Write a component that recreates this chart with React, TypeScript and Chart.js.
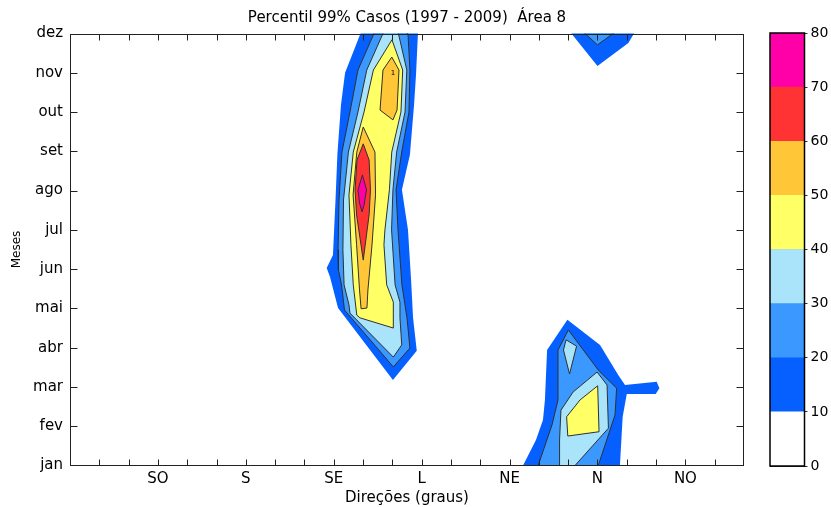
import React, { useEffect, useRef } from 'react';
import { Chart, registerables } from 'chart.js';

Chart.register(...registerables);

type P = [number, number];

// ---- axes / labels ----
const titleText = 'Percentil 99% Casos (1997 - 2009)  Área 8';
const monthLabels = ['jan', 'fev', 'mar', 'abr', 'mai', 'jun', 'jul', 'ago', 'set', 'out', 'nov', 'dez'];
const dirValues = [45, 90, 135, 180, 225, 270, 315];
const dirLabels = ['SO', 'S', 'SE', 'L', 'NE', 'N', 'NO'];
const barLevels = [10, 20, 30, 40, 50, 60, 70, 80];
const levelColors = ['#ffffff', '#0660ff', '#3a98ff', '#a9e4fb', '#ffff66', '#ffc637', '#ff3333', '#ff00a8'];

// ---- contour regions, [direction (deg), month] ----
// SE / L blob
const se10: P[] = [[152.7, 12.5], [148.7, 12.0], [140.8, 11.0], [138.7, 10.18], [136.9, 8.95], [135.9, 7.76], [134.6, 6.36], [131.4, 6.03], [133.1, 5.8], [137.2, 5.01], [165.3, 3.18], [177.5, 3.92], [175.6, 4.76], [174.6, 5.72], [173.0, 7.0], [169.9, 8.02], [174.0, 8.91], [176.1, 10.18], [177.1, 10.94], [178.1, 12.0], [178.6, 12.5]];
const se20: P[] = [[160.0, 12.5], [155.6, 12.0], [147.4, 11.07], [143.3, 10.0], [139.2, 8.98], [137.7, 7.76], [137.2, 6.49], [137.4, 5.98], [139.0, 5.6], [140.5, 4.96], [165.5, 3.51], [174.0, 3.99], [172.5, 4.76], [169.9, 5.6], [167.9, 7.0], [166.9, 8.02], [169.8, 8.98], [173.5, 10.0], [174.0, 11.07], [173.0, 12.0], [172.5, 12.5]];
const se30: P[] = [[164.5, 12.5], [160.2, 12.0], [151.9, 11.07], [147.4, 10.0], [142.5, 8.98], [140.0, 7.76], [139.7, 6.49], [140.3, 5.6], [142.8, 5.09], [143.3, 4.88], [165.5, 3.76], [169.8, 4.07], [168.9, 4.76], [168.9, 5.16], [166.4, 5.6], [164.6, 7.0], [165.3, 8.02], [167.2, 8.98], [171.5, 10.0], [172.4, 11.07], [168.1, 12.0], [166.0, 12.5]];
const se40: P[] = [[164.8, 11.84], [155.3, 11.07], [150.5, 10.0], [145.0, 8.98], [142.8, 7.89], [143.8, 6.62], [145.0, 5.6], [146.8, 4.83], [148.4, 4.76], [165.5, 4.5], [165.5, 5.16], [162.1, 5.6], [160.7, 6.62], [161.2, 7.0], [163.5, 8.02], [164.7, 8.98], [169.4, 10.0], [170.3, 11.07]];
const se50a: P[] = [[164.7, 11.4], [168.4, 11.07], [167.4, 10.05], [165.3, 9.8], [158.7, 10.05], [160.2, 11.07]];
const se50b: P[] = [[150.1, 9.62], [156.1, 8.98], [156.4, 7.89], [154.6, 6.62], [152.5, 5.47], [152.0, 5.01], [149.0, 4.99], [148.2, 5.47], [146.7, 6.62], [144.9, 7.89], [146.8, 8.98]];
const se60: P[] = [[150.1, 9.19], [153.1, 8.78], [153.8, 8.02], [153.1, 7.38], [150.1, 6.23], [146.7, 7.38], [145.9, 8.02], [146.9, 8.78]];
const se70: P[] = [[149.7, 8.4], [151.8, 8.02], [150.5, 7.63], [149.5, 7.46], [148.2, 7.68], [147.4, 8.02]];
// N blob (jan - abr)
const n10: P[] = [[226.8, 0.5], [238.5, 1.65], [242.1, 2.16], [243.1, 2.67], [244.2, 3.94], [254.6, 4.71], [271.3, 4.07], [280.7, 3.3], [284.1, 3.05], [300.3, 3.13], [301.7, 2.97], [299.8, 2.82], [285.0, 2.82], [282.9, 2.24], [281.5, 1.0], [281.5, 0.5]];
const n20: P[] = [[236.2, 0.5], [246.7, 2.03], [249.8, 2.67], [249.8, 3.94], [255.1, 4.45], [270.4, 3.43], [279.8, 2.97], [279.0, 2.29], [270.4, 1.0], [267.0, 0.5]];
const n30a: P[] = [[250.8, 0.5], [250.6, 1.65], [251.3, 2.41], [257.5, 2.87], [269.8, 3.38], [274.9, 3.05], [275.6, 1.95], [258.5, 1.0], [255.0, 0.5]];
const n30b: P[] = [[253.9, 4.2], [259.3, 4.04], [255.7, 3.33], [252.6, 3.94]];
const n40: P[] = [[270.1, 3.03], [270.8, 1.86], [254.8, 1.75], [254.2, 2.24], [261.1, 2.67]];
// N blob (dez)
const d10: P[] = [[248.6, 12.5], [270.0, 11.17], [285.8, 11.76], [288.7, 12.0], [295.2, 12.5]];
const d20: P[] = [[252.7, 12.5], [270.0, 11.71], [291.9, 12.5]];

const contourLevels: { level: number; polys: P[][] }[] = [
  { level: 10, polys: [se10, n10, d10] },
  { level: 20, polys: [se20, n20, d20] },
  { level: 30, polys: [se30, n30a, n30b] },
  { level: 40, polys: [se40, n40] },
  { level: 50, polys: [se50a, se50b] },
  { level: 60, polys: [se60] },
  { level: 70, polys: [se70] },
];

const contourLabel = { text: '1', dir: 165.3, month: 11.0 };

const FONT = 'DejaVu Sans';

const polygonFill = {
  id: 'polygonFill',
  beforeDatasetsDraw(chart: any) {
    const { ctx, chartArea: a } = chart;
    ctx.save();
    ctx.beginPath();
    ctx.rect(a.left, a.top, a.right - a.left, a.bottom - a.top);
    ctx.clip();
    chart.data.datasets.forEach((ds: any, i: number) => {
      const meta = chart.getDatasetMeta(i);
      ctx.beginPath();
      meta.data.forEach((pt: any, j: number) => {
        if (j === 0) ctx.moveTo(pt.x, pt.y);
        else ctx.lineTo(pt.x, pt.y);
      });
      ctx.closePath();
      ctx.fillStyle = ds.backgroundColor;
      ctx.fill();
    });
    ctx.restore();
  },
  afterDatasetsDraw(chart: any) {
    const { ctx, scales } = chart;
    ctx.save();
    ctx.fillStyle = '#000';
    ctx.font = `7px ${FONT}`;
    ctx.textAlign = 'center';
    ctx.textBaseline = 'middle';
    ctx.fillText(contourLabel.text, scales.x.getPixelForValue(contourLabel.dir), scales.y.getPixelForValue(contourLabel.month));
    ctx.restore();
  },
};

const frameTicks = {
  id: 'frameTicks',
  afterDraw(chart: any) {
    const { ctx, chartArea: a, scales } = chart;
    const x = scales.x;
    const y = scales.y;
    ctx.save();
    ctx.strokeStyle = '#222';
    ctx.lineWidth = 1;
    const L = Math.round(a.left) + 0.5;
    const R = Math.round(a.right) - 0.5;
    const T = Math.round(a.top) + 0.5;
    const B = Math.round(a.bottom) - 0.5;
    ctx.strokeRect(L, T, R - L, B - T);
    ctx.beginPath();
    x.ticks.forEach((t: any) => {
      const px = Math.round(x.getPixelForValue(t.value)) + 0.5;
      if (px <= L + 2 || px >= R - 2) return;
      ctx.moveTo(px, B); ctx.lineTo(px, B - 6);
      ctx.moveTo(px, T); ctx.lineTo(px, T + 6);
    });
    y.ticks.forEach((t: any) => {
      const py = Math.round(y.getPixelForValue(t.value)) + 0.5;
      if (py <= T + 2 || py >= B - 2) return;
      ctx.moveTo(L, py); ctx.lineTo(L + 7, py);
      ctx.moveTo(R, py); ctx.lineTo(R - 7, py);
    });
    ctx.stroke();
    ctx.restore();
  },
};

const barFrame = {
  id: 'barFrame',
  afterDraw(chart: any) {
    const { ctx, chartArea: a } = chart;
    ctx.save();
    ctx.strokeStyle = '#000';
    ctx.lineWidth = 1.5;
    ctx.strokeRect(a.left, a.top, a.right - a.left, a.bottom - a.top);
    ctx.restore();
  },
};

function buildDatasets() {
  const out: any[] = [];
  contourLevels.forEach(({ level, polys }) => {
    const color = levelColors[level / 10];
    polys.forEach((poly) => {
      const pts = poly.map(([d, m]) => ({ x: d, y: m }));
      pts.push({ ...pts[0] });
      out.push({
        data: pts,
        showLine: true,
        fill: false,
        tension: 0,
        pointRadius: 0,
        borderWidth: 1,
        borderColor: level === 10 ? 'rgba(0,0,0,0)' : '#303030',
        backgroundColor: color,
        clip: 0,
      });
    });
  });
  return out;
}

export default function App() {
  const mainRef = useRef<HTMLCanvasElement>(null);
  const barRef = useRef<HTMLCanvasElement>(null);

  useEffect(() => {
    const main = new Chart(mainRef.current as HTMLCanvasElement, {
      type: 'scatter',
      data: { datasets: buildDatasets() },
      options: {
        animation: false,
        responsive: false,
        maintainAspectRatio: false,
        events: [],
        layout: { padding: { left: 0, right: 87, top: 0, bottom: 0 } },
        plugins: {
          legend: { display: false },
          tooltip: { enabled: false },
          title: {
            display: true,
            text: titleText,
            fullSize: false,
            color: '#000',
            font: { family: FONT, size: 15, weight: 'normal' },
            padding: { top: 9, bottom: 6.5 },
          },
        },
        scales: {
          x: {
            type: 'linear',
            min: 0,
            max: 345,
            grid: { display: false, drawTicks: false },
            border: { display: false },
            ticks: {
              stepSize: 15,
              autoSkip: false,
              maxRotation: 0,
              padding: 5,
              color: '#000',
              font: { family: FONT, size: 15 },
              callback: (v: any) => {
                const i = dirValues.indexOf(Number(v));
                return i >= 0 ? dirLabels[i] : '';
              },
            },
            title: {
              display: true,
              text: 'Direções (graus)',
              color: '#000',
              font: { family: FONT, size: 15 },
              padding: { top: 0, bottom: 0 },
            },
            afterFit: (s: any) => { s.height = 41.5; },
          },
          y: {
            type: 'linear',
            min: 1,
            max: 12,
            grid: { display: false, drawTicks: false },
            border: { display: false },
            ticks: {
              stepSize: 1,
              autoSkip: false,
              padding: 7,
              color: '#000',
              font: { family: FONT, size: 15 },
              callback: (v: any) => monthLabels[Number(v) - 1] ?? '',
            },
            title: {
              display: true,
              text: 'Meses',
              color: '#000',
              font: { family: FONT, size: 12 },
              padding: { top: 10, bottom: 0 },
            },
            afterFit: (s: any) => { s.width = 70; },
          },
        },
      } as any,
      plugins: [polygonFill, frameTicks],
    });

    const bar = new Chart(barRef.current as HTMLCanvasElement, {
      type: 'bar',
      data: {
        labels: [''],
        datasets: barLevels.map((lv, i) => ({
          data: [10],
          backgroundColor: levelColors[i],
          borderWidth: 0,
          barPercentage: 1,
          categoryPercentage: 1,
        })),
      },
      options: {
        animation: false,
        responsive: false,
        maintainAspectRatio: false,
        events: [],
        layout: { padding: { left: 30, right: 0, top: 33, bottom: 41 } },
        plugins: { legend: { display: false }, tooltip: { enabled: false }, title: { display: false } },
        scales: {
          x: { stacked: true, display: false },
          y: {
            stacked: true,
            position: 'right',
            min: 0,
            max: 80,
            z: 1,
            grid: { display: true, drawOnChartArea: true, drawTicks: true, tickLength: 3, color: '#333', lineWidth: 1 },
            border: { display: true, color: '#000' },
            ticks: { stepSize: 10, padding: 3, color: '#000', font: { family: FONT, size: 14 } },
            afterFit: (s: any) => { s.width = 26.5; },
          },
        },
      } as any,
      plugins: [barFrame],
    });

    return () => {
      main.destroy();
      bar.destroy();
    };
  }, []);

  return (
    <div style={{ position: 'fixed', left: 0, top: 0, width: 831, height: 507, background: '#fff' }}>
      <canvas ref={mainRef} width={831} height={507} style={{ position: 'absolute', left: 0, top: 0 }} />
      <canvas ref={barRef} width={91} height={507} style={{ position: 'absolute', left: 740, top: 0 }} />
    </div>
  );
}
